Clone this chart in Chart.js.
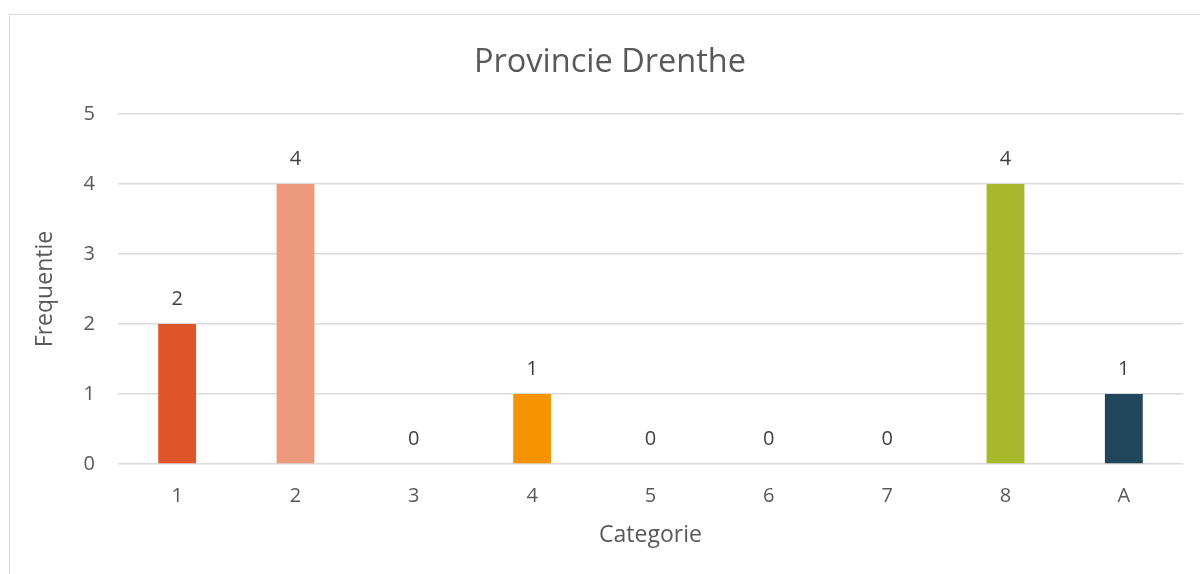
<!DOCTYPE html>
<html>
<head>
<meta charset="utf-8">
<script src="https://cdn.jsdelivr.net/npm/chart.js@4"></script>
<style>
  html, body { margin: 0; padding: 0; background: #fff; }
  #wrap { position: relative; width: 1200px; height: 574px; overflow: hidden; }
  #frame { position: absolute; left: 9px; top: 14px; width: 1300px; height: 700px; border: 1px solid #d9d9d9; }
  #chart { position: absolute; left: 0; top: 0; }
</style>
</head>
<body>
<div id="wrap">
  <div id="frame"></div>
  <canvas id="chart" width="1220" height="574"></canvas>
</div>
<script>
// data
const categorieen = ['1', '2', '3', '4', '5', '6', '7', '8', 'A']
const frequenties = [2, 4, 0, 1, 0, 0, 0, 4, 1]
const kleuren = ['#E0542A', '#EC997C', '#EC997C', '#F59300', '#F59300', '#F59300', '#F59300', '#A7B82A', '#21455A']
const yTicks = [0, 1, 2, 3, 4, 5]

const tekstKleur = '#595959'
const fontNaam = "'Open Sans', 'Noto Sans', sans-serif"

// waarde boven elke staaf tekenen
const waardeLabels = {
    id: 'waardeLabels',
    afterDatasetsDraw(chart) {
        let ctx = chart.ctx
        let meta = chart.getDatasetMeta(0)
        ctx.save()
        ctx.font = '20px ' + fontNaam
        ctx.fillStyle = '#404040'
        ctx.textAlign = 'center'
        ctx.textBaseline = 'middle'
        meta.data.forEach((bar, i) => {
            ctx.fillText(String(frequenties[i]), bar.x, bar.y - 25)
        })
        ctx.restore()
    }
}

new Chart(document.getElementById('chart'), {
    type: 'bar',
    data: {
        labels: categorieen,
        datasets: [{
            data: frequenties,
            backgroundColor: kleuren,
            borderWidth: 0,
            barPercentage: 0.32,
            categoryPercentage: 1
        }]
    },
    options: {
        responsive: false,
        animation: false,
        // links en rechts gelijk zodat de titel op x=610 valt
        layout: { padding: { left: 37, right: 37, top: 0, bottom: 0 } },
        plugins: {
            legend: { display: false },
            tooltip: { enabled: false },
            title: {
                display: true,
                text: 'Provincie Drenthe',
                color: tekstKleur,
                font: { family: fontNaam, size: 32.5, weight: 'normal' },
                padding: { top: 43.5, bottom: 31.5 }
            }
        },
        scales: {
            x: {
                grid: { display: false, drawTicks: false },
                border: { display: false },
                ticks: { color: tekstKleur, font: { family: fontNaam, size: 20 }, padding: 20 },
                title: {
                    display: true,
                    text: 'Categorie',
                    color: tekstKleur,
                    font: { family: fontNaam, size: 23 },
                    padding: { top: 25, bottom: 25 }
                },
                afterFit(scale) { scale.height = 110 }
            },
            y: {
                min: 0,
                max: 5,
                afterBuildTicks(scale) { scale.ticks = yTicks.map(v => ({ value: v })) },
                grid: { color: '#d9d9d9', lineWidth: 1.5, drawTicks: false },
                border: { display: false },
                ticks: { color: tekstKleur, font: { family: fontNaam, size: 20 }, padding: 23 },
                title: {
                    display: true,
                    text: 'Frequentie',
                    color: tekstKleur,
                    font: { family: fontNaam, size: 23 },
                    padding: { top: -5, bottom: -5 }
                },
                afterFit(scale) { scale.width = 81 }
            }
        }
    },
    plugins: [waardeLabels]
})
</script>
</body>
</html>
